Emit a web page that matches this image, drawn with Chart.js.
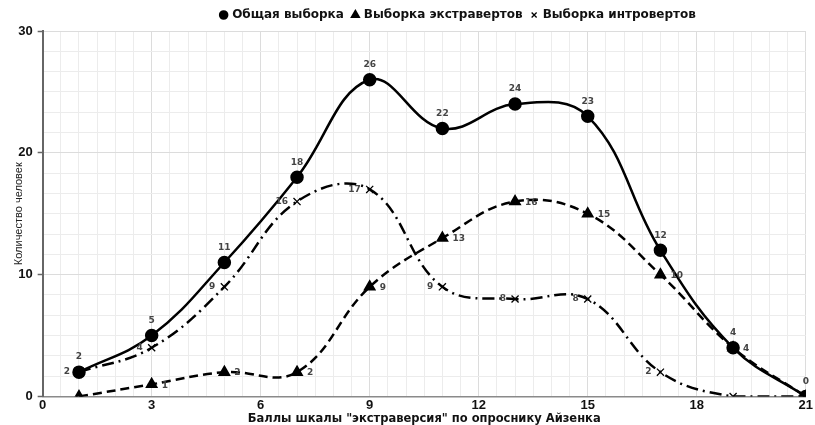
<!DOCTYPE html>
<html>
<head>
<meta charset="utf-8">
<script src="https://cdn.jsdelivr.net/npm/chart.js@4/dist/chart.umd.min.js"></script>
<style>
  html, body { margin: 0; padding: 0; background: #fff; }
  #wrap { width: 815px; height: 425px; position: relative; }
</style>
</head>
<body>
<div id="wrap"><canvas id="c" width="815" height="425"></canvas></div>
<script>
// ---- data ----
const scores = [1, 3, 5, 7, 9, 11, 13, 15, 17, 19, 21];
const totalSample = [2, 5, 11, 18, 26, 22, 24, 23, 12, 4, 0];
const extravertSample = [0, 1, 2, 2, 9, 13, 16, 15, 10, 4, 0];
const introvertSample = [2, 4, 9, 16, 17, 9, 8, 8, 2, 0, 0];
const seriesNames = ["Общая выборка", "Выборка экстравертов", "Выборка интровертов"];
const xTitle = 'Баллы шкалы "экстраверсия" по опроснику Айзенка';
const yTitle = "Количество человек";
const xMajorTicks = [0, 3, 6, 9, 12, 15, 18, 21];
const yMajorTicks = [0, 10, 20, 30];

const FONT = "'Liberation Sans', Arial, sans-serif";
const WIDE = "'DejaVu Sans', 'Liberation Sans', sans-serif";

function pts(vals) { return scores.map((x, i) => ({ x: x, y: vals[i] })); }

// minor grid positions
const xGrid = []; for (let i = 0; i <= 42; i++) xGrid.push(i / 2);
const yGrid = []; for (let i = 0; i <= 18; i++) yGrid.push(Math.round(i * 10 / 6 * 1000) / 1000);

const isMajor = (v, list) => list.some(m => Math.abs(m - v) < 1e-6);

const labelPlugin = {
  id: 'pointLabels',
  afterDatasetsDraw(chart) {
    const ctx = chart.ctx;
    ctx.save();
    ctx.font = "bold 9px " + WIDE;
    ctx.fillStyle = '#444';
    ctx.textBaseline = 'middle';
    chart.data.datasets.forEach((ds, di) => {
      const meta = chart.getDatasetMeta(di);
      meta.data.forEach((el, j) => {
        const v = ds.data[j].y;
        if (di > 0 && v === 0) return;
        if (di === 0) { ctx.textAlign = 'center'; ctx.fillText(String(v), el.x, el.y - 15); }
        else if (di === 1) { ctx.textAlign = 'left'; ctx.fillText(String(v), el.x + 10, el.y + 1); }
        else { ctx.textAlign = 'right'; ctx.fillText(String(v), el.x - 9, el.y); }
      });
    });
    ctx.restore();
  }
};

const legendShift = {
  id: 'legendShift',
  afterLayout(chart) {
    if (chart.legend) { chart.legend.left += 45; chart.legend.right += 45; }
  }
};

new Chart(document.getElementById('c'), {
  type: 'line',
  data: {
    datasets: [
      {
        label: seriesNames[0], data: pts(totalSample),
        borderColor: '#000', backgroundColor: '#000', borderWidth: 2.5,
        pointStyle: 'circle', pointRadius: 5.5, pointBackgroundColor: '#000', pointBorderColor: '#000',
        tension: 0.4, fill: false
      },
      {
        label: seriesNames[1], data: pts(extravertSample),
        borderColor: '#000', backgroundColor: '#000', borderWidth: 2.5, borderDash: [9, 5],
        pointStyle: 'triangle', pointRadius: 5, pointBackgroundColor: '#000', pointBorderColor: '#000',
        tension: 0.4, fill: false
      },
      {
        label: seriesNames[2], data: pts(introvertSample),
        borderColor: '#000', backgroundColor: '#000', borderWidth: 2.5, borderDash: [12, 5, 2, 5],
        pointStyle: 'crossRot', pointRadius: 5, pointBorderWidth: 1.3, pointBorderColor: '#000',
        tension: 0.4, fill: false
      }
    ]
  },
  options: {
    responsive: false,
    animation: false,
    layout: { padding: { left: 12, right: 0, top: 0, bottom: 0 } },
    plugins: {
      legend: {
        position: 'top',
        labels: {
          usePointStyle: true, boxWidth: 5, boxHeight: 5, padding: 9,
          color: '#111', font: { family: WIDE, size: 12, weight: 'bold' }
        }
      },
      tooltip: { enabled: false }
    },
    scales: {
      x: {
        type: 'linear', min: 0, max: 21,
        afterBuildTicks: (s) => { s.ticks = xGrid.map(v => ({ value: v })); },
        ticks: {
          autoSkip: false, maxRotation: 0, padding: 2, color: '#111',
          font: { family: FONT, size: 13, weight: 'bold', lineHeight: 1 },
          callback: (v) => isMajor(v, xMajorTicks) ? String(v) : ''
        },
        grid: {
          drawTicks: false,
          color: (c) => isMajor(c.tick.value, xMajorTicks) ? '#dcdcdc' : '#ececec',
          lineWidth: 1
        },
        border: { color: '#8a8a8a', width: 1.5 },
        title: {
          display: true, text: xTitle, color: '#111', padding: { top: 0, bottom: 0 },
          font: { family: WIDE, size: 11.5, weight: 'bold', lineHeight: 1 }
        }
      },
      y: {
        type: 'linear', min: 0, max: 30,
        afterBuildTicks: (s) => { s.ticks = yGrid.map(v => ({ value: v })); },
        ticks: {
          autoSkip: false, padding: 5, color: '#111',
          font: { family: FONT, size: 13, weight: 'bold' },
          callback: (v) => isMajor(v, yMajorTicks) ? String(v) : ''
        },
        grid: {
          tickLength: 5,
          color: (c) => isMajor(c.tick.value, yMajorTicks) ? '#dcdcdc' : '#ececec',
          tickColor: (c) => isMajor(c.tick.value, yMajorTicks) ? '#666' : 'rgba(0,0,0,0)',
          lineWidth: 1, tickWidth: 1.5
        },
        border: { color: '#666', width: 2 },
        title: {
          display: true, text: yTitle, color: '#222', padding: { top: 0, bottom: -12 },
          font: { family: FONT, size: 11, weight: 'normal' }
        }
      }
    }
  },
  plugins: [labelPlugin, legendShift]
});
</script>
</body>
</html>
